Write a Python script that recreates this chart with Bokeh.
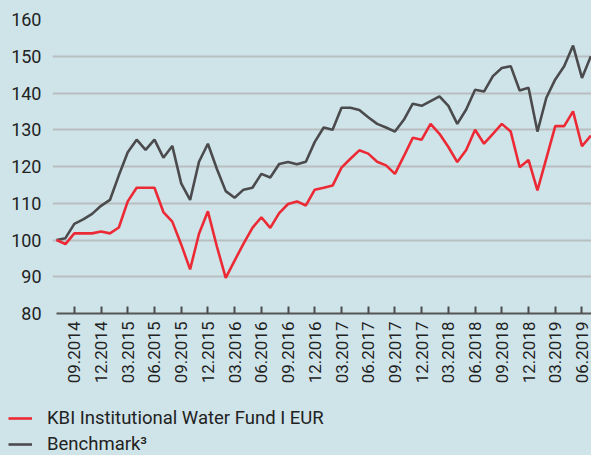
import math
from bokeh.plotting import figure
from bokeh.layouts import column, row
from bokeh.models import FixedTicker, Legend, LegendItem, ColumnDataSource
from bokeh.embed import file_html
from bokeh.resources import INLINE

# ---- data (monthly, 07.2014 .. 07.2019) ----
fund = [100.0, 98.9, 101.8, 101.8, 101.8, 102.3, 101.8, 103.4, 110.5, 114.2,
        114.2, 114.2, 107.6, 105.0, 98.8, 92.0, 101.7, 107.8, 98.3, 89.7,
        94.4, 99.0, 103.3, 106.2, 103.3, 107.3, 109.8, 110.5, 109.4, 113.7,
        114.2, 114.8, 119.7, 122.1, 124.4, 123.5, 121.3, 120.3, 118.0, 122.8,
        127.8, 127.3, 131.6, 128.9, 125.3, 121.2, 124.5, 130.0, 126.2, 128.9,
        131.6, 129.5, 119.8, 121.8, 113.5, 122.2, 131.0, 131.0, 135.0, 125.5,
        128.4]
benchmark = [100.0, 100.5, 104.4, 105.6, 107.1, 109.3, 110.9, 117.6, 123.9, 127.3,
             124.5, 127.3, 122.4, 125.6, 115.4, 110.9, 121.3, 126.2, 119.4, 113.3,
             111.5, 113.7, 114.2, 118.0, 117.0, 120.7, 121.2, 120.6, 121.3, 126.7,
             130.6, 130.0, 136.0, 136.0, 135.4, 133.4, 131.6, 130.6, 129.5, 132.7,
             137.1, 136.5, 137.8, 139.1, 136.5, 131.6, 135.5, 140.9, 140.4, 144.6,
             146.8, 147.3, 140.7, 141.4, 129.5, 138.7, 143.7, 147.3, 152.9, 144.1,
             150.0]
month_index = list(range(len(fund)))
tick_labels = ["09.2014", "12.2014", "03.2015", "06.2015", "09.2015", "12.2015",
               "03.2016", "06.2016", "09.2016", "12.2016", "03.2017", "06.2017",
               "09.2017", "12.2017", "03.2018", "06.2018", "09.2018", "12.2018",
               "03.2019", "06.2019"]
tick_pos = [2 + 3 * k for k in range(len(tick_labels))]
y_ticks = [80, 90, 100, 110, 120, 130, 140, 150, 160]
grid_ticks = [90, 100, 110, 120, 130, 140, 150]
series_names = ["KBI Institutional Water Fund I EUR", "Benchmark\u00b3"]

BG = "#cfe4e9"
RED = "#ec2a35"
GRAY = "#4b4b4d"
FONT = "Roboto"
LW = 2.6

p = figure(width=591, height=395, output_backend="svg", toolbar_location=None,
           x_range=(-0.449, 60.07), y_range=(80, 160),
           min_border_left=52, min_border_right=0, min_border_top=19,
           min_border_bottom=82)
p.background_fill_color = BG
p.border_fill_color = BG
p.outline_line_color = None

src = ColumnDataSource(dict(x=month_index, fund=fund, bench=benchmark))
p.line("x", "bench", source=src, line_color=GRAY, line_width=LW)
p.line("x", "fund", source=src, line_color=RED, line_width=LW)

# x axis
xa = p.xaxis[0]
xa.ticker = FixedTicker(ticks=tick_pos)
xa.major_label_overrides = {t: l for t, l in zip(tick_pos, tick_labels)}
xa.major_label_orientation = math.pi / 2
xa.major_tick_in = 7
xa.major_tick_out = 0
xa.major_tick_line_color = GRAY
xa.major_tick_line_width = 2
xa.minor_tick_line_color = None
xa.axis_line_color = "#555555"
xa.axis_line_width = 2
xa.bounds = (0, 61)
xa.major_label_standoff = 8
xa.major_label_text_font = FONT
xa.major_label_text_font_size = "17px"
xa.major_label_text_color = "#222222"

# y axis
ya = p.yaxis[0]
ya.ticker = FixedTicker(ticks=y_ticks)
ya.axis_line_color = None
ya.major_tick_line_color = None
ya.minor_tick_line_color = None
ya.major_tick_in = 0
ya.major_tick_out = 0
ya.major_label_standoff = 11
ya.major_label_text_font = FONT
ya.major_label_text_font_size = "18px"
ya.major_label_text_color = "#222222"

p.xgrid.grid_line_color = None
p.ygrid.ticker = FixedTicker(ticks=grid_ticks)
p.ygrid.grid_line_color = "#b9bec0"
p.ygrid.grid_line_width = 2

# legend strip below the chart
lg = figure(width=591, height=60, output_backend="svg", toolbar_location=None,
            x_range=(0, 1), y_range=(0, 1), x_axis_type=None, y_axis_type=None,
            min_border=0, min_border_left=0, min_border_right=0,
            min_border_top=0, min_border_bottom=0)
lg.background_fill_color = BG
lg.border_fill_color = BG
lg.outline_line_color = None
lg.grid.visible = False
d_f = lg.line(x=[-5, -4], y=[-5, -4], line_color=RED, line_width=LW)
d_b = lg.line(x=[-5, -4], y=[-5, -4], line_color=GRAY, line_width=LW)

legend = Legend(items=[LegendItem(label=series_names[0], renderers=[d_f]),
                       LegendItem(label=series_names[1], renderers=[d_b])],
                location=(8, 0))
legend.background_fill_alpha = 0
legend.border_line_color = None
legend.padding = 0
legend.margin = 0
legend.spacing = 4
legend.glyph_width = 24
legend.glyph_height = 22
legend.label_height = 22
legend.label_standoff = 15
legend.label_text_font = FONT
legend.label_text_font_size = "18.5px"
legend.label_text_color = "#222222"
lg.add_layout(legend, "center")

css = [":host { background-color: %s; }" % BG]
layout = column(p, row(lg, stylesheets=css), spacing=0, stylesheets=css)
open("out.html", "w").write(file_html(layout, INLINE))
